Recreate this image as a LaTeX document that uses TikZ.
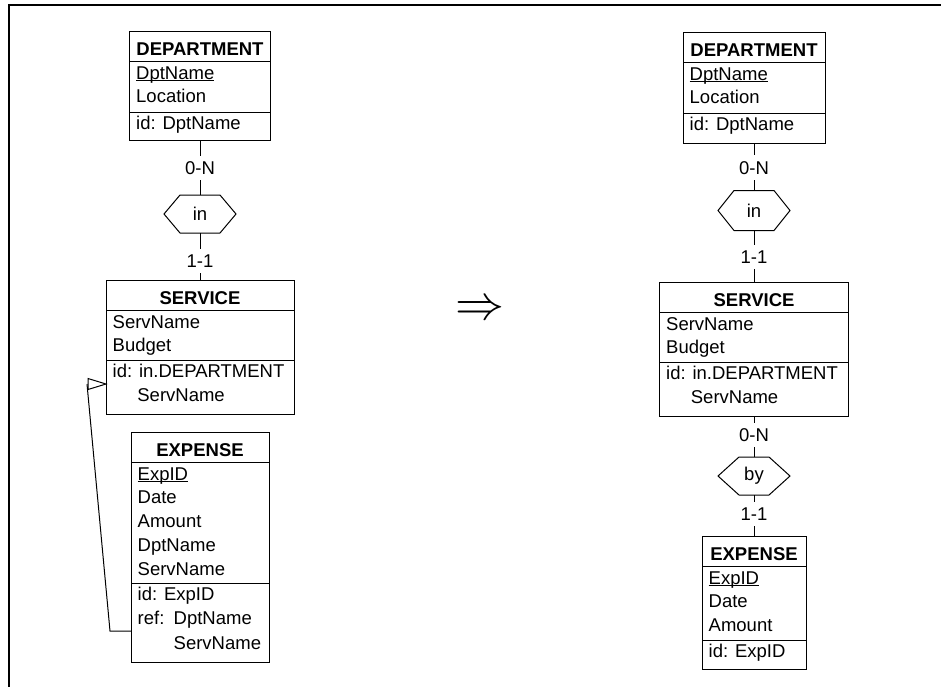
\documentclass[tikz,border=0pt]{standalone}
\usepackage{fontspec}
\setmainfont{Liberation Sans}
\usetikzlibrary{calc}

% key attribute: underline sitting just under the baseline
\newcommand\keyattr[1]{\underline{\smash{#1}}}

% entity box: #1 name, #2 left, #3 top, #4 width, #5 height,
% #6 offset of the identifier section, #7 title, #8 attributes, #9 identifiers
\newcommand\erentity[9]{%
  \node[entity, minimum width=#4, minimum height=#5] (#1) at (#2,#3) {};
  \node[etitle] (#1-t) at ($(#1.north)+(0,24)$) {#7};
  \draw[erline] ($(#1.north west)+(0,30)$) -- ($(#1.north east)+(0,30)$);
  \draw[erline] ($(#1.north west)+(0,#6)$) -- ($(#1.north east)+(0,#6)$);
  \foreach \rowtext [count=\i from 0] in {#8}
    \node[attr] (#1-a\i) at ($(#1.north west)+(6.5,48+23.8*\i)$) {\rowtext};
  \foreach \rowtext [count=\i from 0] in {#9}
    \node[attr] (#1-k\i) at ($(#1.north west)+(6.5,#6+17+24.5*\i)$) {\rowtext};
}

% hexagonal relationship outline around node #1, #2 = slant of the sides
\newcommand\relshape[2]{%
  \draw[erline] (#1.west) -- ([xshift=#2]#1.north west) -- ([xshift=-#2]#1.north east)
    -- (#1.east) -- ([xshift=-#2]#1.south east) -- ([xshift=#2]#1.south west) -- cycle;
}

\tikzset{
  erfont/.style={font=\fontsize{18.5}{22}\selectfont},
  erline/.style={line width=1pt, draw=black},
  entity/.style={draw=black, line width=1pt, rectangle, anchor=north west,
    inner sep=0pt, outer sep=0pt},
  etitle/.style={anchor=base, inner sep=0pt, font=\fontsize{18.5}{22}\selectfont\bfseries},
  attr/.style={anchor=base west, inner sep=0pt, erfont},
  rel/.style={minimum width=72pt, minimum height=38pt, inner sep=0pt, outer sep=0pt, erfont},
  card/.style={fill=white, inner xsep=2pt, inner ysep=5.8pt, erfont},
}

\begin{document}
\begin{tikzpicture}[x=1pt, y=-1pt]
\useasboundingbox (0,0) rectangle (941,686);

% frame
\draw[line width=2.3pt] (9,690) -- (9,5) -- (945,5);

% ---------- schema before the transformation ----------
\erentity{ldep}{129.5}{31}{141}{109}{81}{DEPARTMENT}
  {{\keyattr{DptName}}, Location}{{id: DptName}}
\erentity{lserv}{106}{280}{188}{134}{80}{SERVICE}
  {ServName, Budget}{{id: in.DEPARTMENT}, {\phantom{id:~}ServName}}
\erentity{lexp}{131}{432}{138}{230}{151}{EXPENSE}
  {{\keyattr{ExpID}}, Date, Amount, DptName, ServName}
  {{id: ExpID}, {\makebox[36pt][l]{ref:}DptName}, {\hspace*{36pt}ServName}}

\node[rel] (lin) at (200,214) {in};
\relshape{lin}{16}

\draw[erline] (ldep.south) -- node[card, pos=0.51] (lc1) {0-N} (lin.north);
\draw[erline] (lin.south) -- node[card, pos=0.6] (lc2) {1-1} (lserv.north);

% reference constraint from EXPENSE to SERVICE
\coordinate (refS) at ($(lexp.north west)+(0,199)$);
\coordinate (refB) at ($(lexp.north west)+(-21,199)$);
\coordinate (refT) at ($(lserv.north west)+(0,104)$);
\coordinate (refA) at ($(refT)+(-19,0)$);
\draw[erline] (refS) -- (refB) -- (refA);
\draw[erline, line join=miter] (refT) -- ++(-18,-5.5) -- ++(0,11) -- cycle;

% ---------- transformation arrow ----------
\node[scale=4.9, inner sep=0pt] (impl) at (480,311) {$\Rightarrow$};

% ---------- schema after the transformation ----------
\erentity{rdep}{683}{32}{142}{111}{81}{DEPARTMENT}
  {{\keyattr{DptName}}, Location}{{id: DptName}}
\erentity{rserv}{659.5}{282}{189}{134}{80}{SERVICE}
  {ServName, Budget}{{id: in.DEPARTMENT}, {\phantom{id:~}ServName}}
\erentity{rexp}{702}{536}{104}{133}{104}{EXPENSE}
  {{\keyattr{ExpID}}, Date, Amount}{{id: ExpID}}

\node[rel, minimum height=40pt] (rin) at (754,210.5) {in};
\relshape{rin}{16}
\node[rel] (rby) at (754,476) {by};
\relshape{rby}{21}

\draw[erline] (rdep.south) -- node[card, pos=0.52] (rc1) {0-N} (rin.north);
\draw[erline] (rin.south) -- node[card, pos=0.51] (rc2) {1-1} (rserv.north);
\draw[erline] (rserv.south) -- node[card, pos=0.46] (rc3) {0-N} (rby.north);
\draw[erline] (rby.south) -- node[card, pos=0.46] (rc4) {1-1} (rexp.north);
\end{tikzpicture}
\end{document}
